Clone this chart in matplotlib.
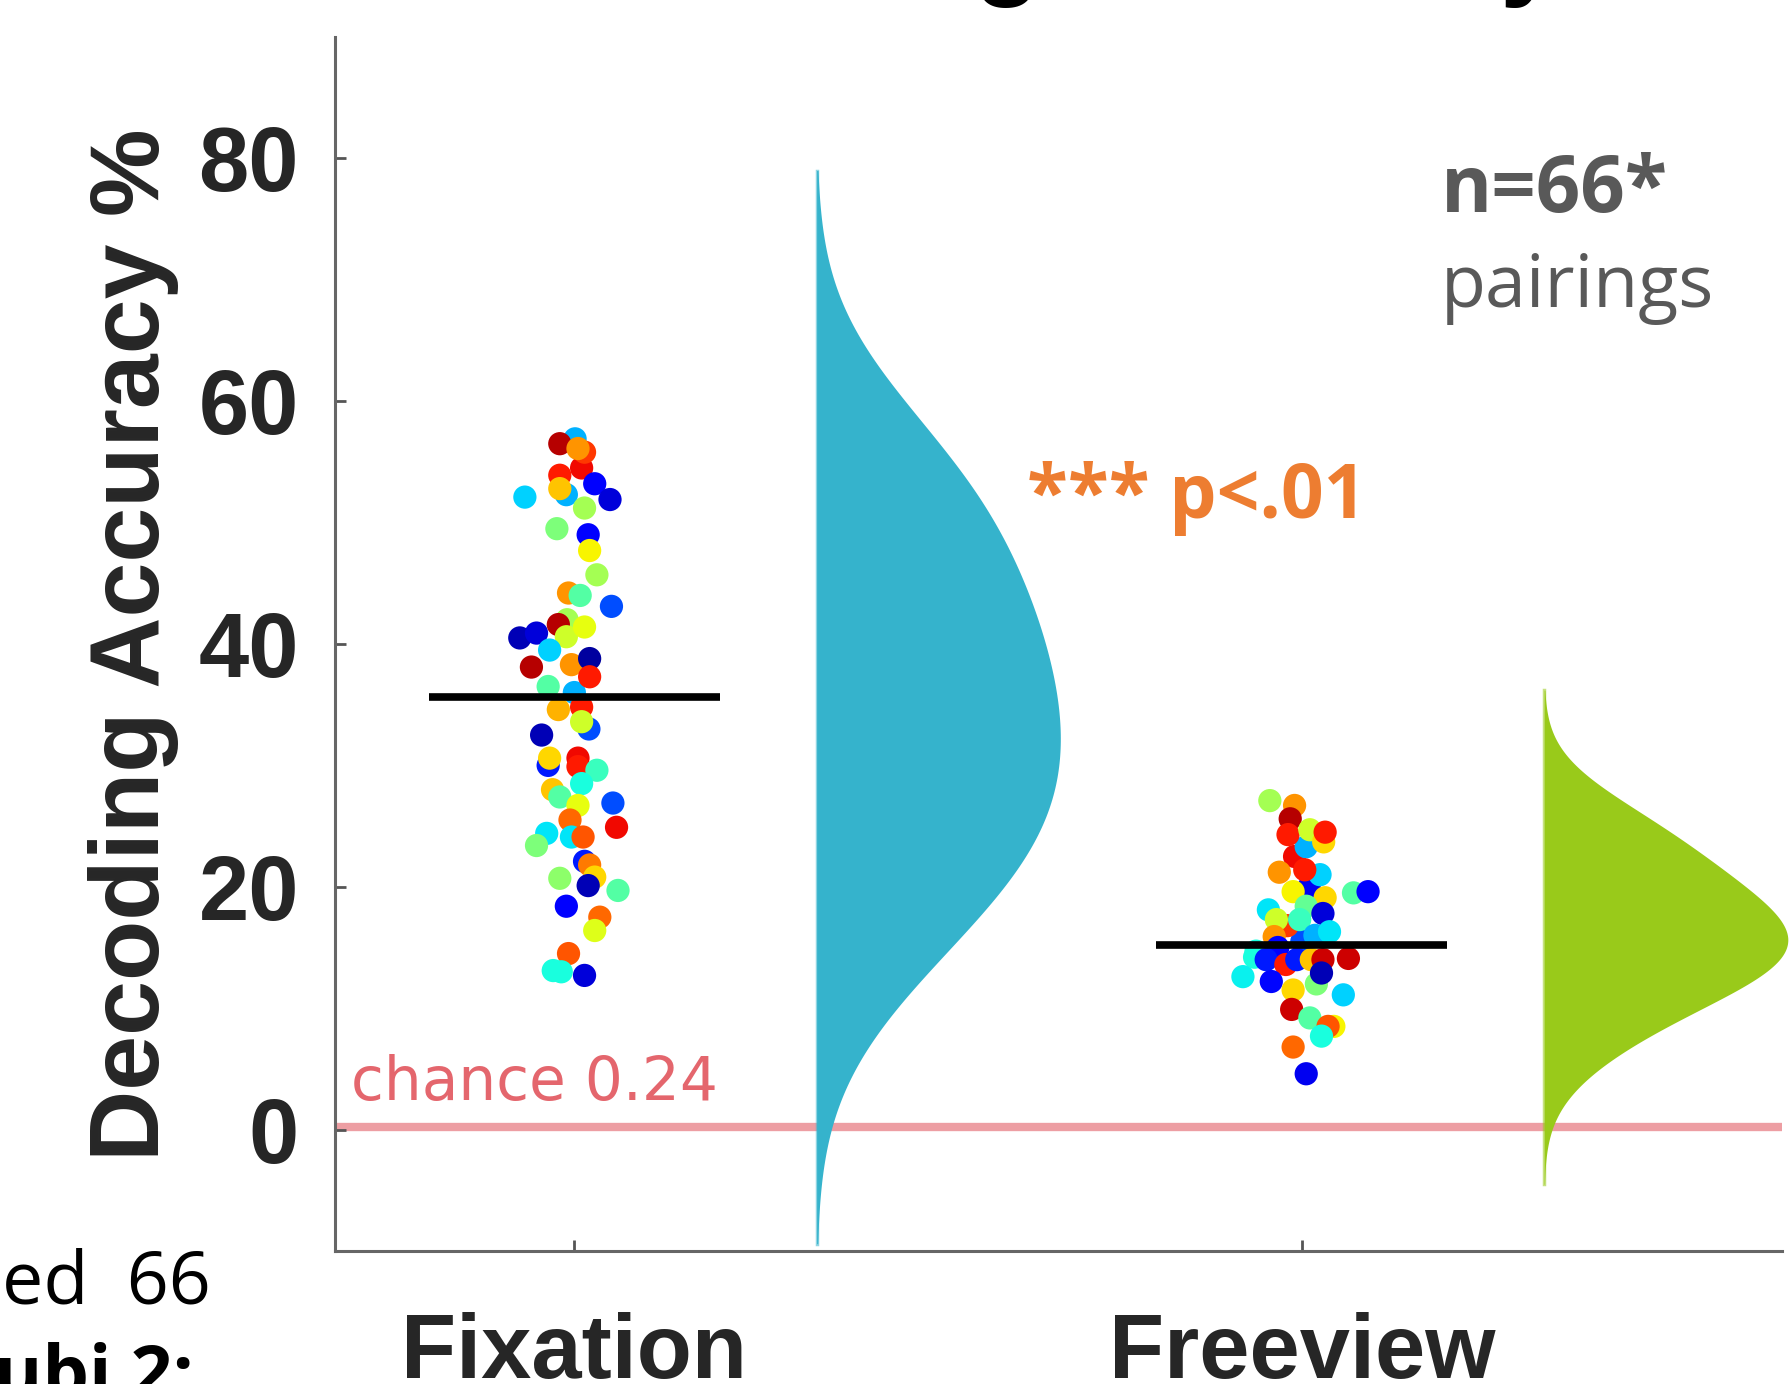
import numpy as np
import matplotlib.pyplot as plt

groups = ['Fixation', 'Freeview']
means = [35.6, 15.2]
chance = 0.24

fix_x = [1.000, 0.990, 1.020, 0.970, 1.010,
         1.001, 0.980, 1.014, 1.005, 0.989, 0.980, 0.980, 0.932, 1.028, 1.049,
         1.014, 0.976, 1.019, 1.021, 1.031, 0.992, 1.008, 1.051, 0.925, 0.948,
         0.978, 0.989, 1.014, 0.966, 0.941, 0.996, 1.021, 1.021, 0.964,
         0.978, 1.010, 1.010, 0.955, 0.964, 0.966, 1.005, 1.005, 1.031, 1.010,
         0.980, 1.005, 1.053, 0.994, 1.058, 0.962, 0.948, 0.996, 1.012, 1.014,
         1.021, 1.028, 1.019, 0.980, 1.060, 0.989, 1.035, 1.028, 0.992, 0.971,
         0.982, 1.014]
fix_y = [36.0, 42.0, 33.0, 28.0, 54.5,
         56.9, 56.5, 55.8, 56.1, 52.3, 53.9, 52.8, 52.1, 53.2, 51.9,
         51.2, 49.5, 49.0, 47.7, 45.7, 44.2, 44.0, 43.1, 40.5, 40.9,
         41.6, 40.6, 41.4, 39.5, 38.1, 38.3, 38.8, 37.3, 36.5,
         34.6, 34.8, 33.6, 32.5, 30.0, 30.6, 30.6, 29.9, 29.6, 28.5,
         27.4, 26.7, 26.9, 25.5, 24.9, 24.4, 23.4, 24.1, 24.1, 22.1,
         21.8, 20.8, 20.1, 20.7, 19.7, 18.4, 17.5, 16.4, 14.5, 13.1,
         13.0, 12.7]
fix_c = [0.30, 0.55, 0.20, 0.70, 0.90,
         0.30, 0.95, 0.85, 0.75, 0.30, 0.88, 0.70, 0.33, 0.12, 0.08,
         0.55, 0.50, 0.12, 0.65, 0.55, 0.75, 0.45, 0.20, 0.05, 0.08,
         0.95, 0.60, 0.63, 0.33, 0.95, 0.75, 0.03, 0.88, 0.45,
         0.72, 0.88, 0.60, 0.05, 0.15, 0.68, 0.90, 0.88, 0.42, 0.38,
         0.45, 0.63, 0.20, 0.80, 0.90, 0.35, 0.50, 0.35, 0.82, 0.15,
         0.78, 0.68, 0.05, 0.52, 0.45, 0.12, 0.80, 0.62, 0.82, 0.38,
         0.38, 0.08]

free_x = [2.000, 1.980, 2.020, 1.990, 2.010,
          1.956, 1.990, 2.006, 1.984, 1.981, 2.011, 2.030, 2.032,
          1.969, 2.025, 2.004, 1.988, 2.071, 2.091, 2.032, 1.954, 2.006, 2.029,
          1.965, 1.997, 1.962, 2.018, 2.038, 1.937, 1.967, 1.935, 1.951, 1.978,
          1.993, 2.013, 2.029, 2.064, 2.027, 1.919, 1.958, 2.057, 1.988, 1.986,
          2.011, 2.044, 2.036, 2.027, 1.988, 2.006]
free_y = [15.5, 16.8, 12.0, 22.5, 20.0,
          27.1, 26.7, 23.3, 25.6, 24.3, 24.7, 23.7, 24.5,
          21.2, 21.0, 21.4, 19.6, 19.5, 19.6, 19.1, 18.1, 18.4, 17.8,
          17.3, 17.3, 15.9, 16.0, 16.3, 14.7, 15.0, 14.2, 14.0, 13.6,
          14.0, 14.0, 14.0, 14.1, 12.9, 12.6, 12.2, 11.1, 11.5, 9.9,
          9.2, 8.5, 8.5, 7.7, 6.8, 4.6]
free_c = [0.20, 0.85, 0.50, 0.90, 0.10,
          0.55, 0.75, 0.30, 0.95, 0.88, 0.60, 0.68, 0.88,
          0.75, 0.33, 0.88, 0.65, 0.45, 0.12, 0.68, 0.35, 0.47, 0.08,
          0.60, 0.42, 0.75, 0.30, 0.35, 0.38, 0.12, 0.38, 0.15, 0.88,
          0.15, 0.70, 0.93, 0.93, 0.05, 0.36, 0.13, 0.33, 0.68, 0.93,
          0.45, 0.65, 0.82, 0.38, 0.80, 0.10]

violin_colors = ['#35B3CC', '#99CA1A']
bandwidths = [8.5, 3.5]

fig = plt.figure(figsize=(17.91, 13.84), dpi=100)
ax = fig.add_axes([335/1791, 1-1251/1384, (1782-335)/1791, (1251-37)/1384])

ax.axhline(chance, color='#EC9499', lw=6, alpha=0.9, zorder=1)
ax.text(0.693, 2.4, 'chance 0.24', color='#E4666D', fontsize=43,
        family='DejaVu Sans', ha='left', va='baseline')

for i, (xs, ys, cs) in enumerate([(fix_x, fix_y, fix_c), (free_x, free_y, free_c)]):
    ys = np.array(ys)
    ax.scatter(xs, ys, c=cs, cmap='jet', vmin=0, vmax=1, s=280, lw=0, zorder=3)
    ax.plot([i+0.8, i+1.2], [means[i], means[i]], color='black', lw=5.5,
            solid_capstyle='butt', zorder=4)
    # half violin from a gaussian kde of the points
    bw = bandwidths[i]
    g = np.linspace(ys.min()-2.6*bw, ys.max()+2.6*bw, 300)
    d = np.exp(-0.5*((g[:, None]-ys[None, :])/bw)**2).sum(1)
    w = d/d.max()*0.335
    base = i+1.333
    ax.fill_betweenx(g, base, base+w, color=violin_colors[i], lw=0, zorder=2, clip_on=False)
    ax.plot([base, base], [g[0], g[-1]], color=violin_colors[i], alpha=0.55, lw=2.5,
            zorder=2, clip_on=False)

ax.set_xlim(0.671, 2.66)
ax.set_ylim(-10, 90)
ax.set_xticks([1, 2])
ax.set_xticklabels(groups)
ax.set_yticks([0, 20, 40, 60, 80])
for s in ['top', 'right']:
    ax.spines[s].set_visible(False)
for s in ['left', 'bottom']:
    ax.spines[s].set_color('#666666')
    ax.spines[s].set_linewidth(2.2)
ax.tick_params(axis='both', direction='in', length=8, width=2, color='#555555')
ax.tick_params(axis='y', pad=26)
ax.tick_params(axis='x', pad=44)
for lab in ax.get_yticklabels() + ax.get_xticklabels():
    lab.set_family('Liberation Sans')
    lab.set_fontweight('bold')
    lab.set_fontsize(65)
    lab.set_color('#262626')

fig.text(134/1791, 1-645/1384, 'Decoding Accuracy %', rotation=90, ha='center', va='center',
         family='Liberation Sans', fontweight='bold', fontsize=71, color='#262626')

fig.text(1441/1791, 1-212/1384, 'n=66*', family='Open Sans', fontweight='bold',
         fontsize=56, color='#595959', ha='left', va='baseline')
fig.text(1441/1791, 1-307/1384, 'pairings', family='Open Sans',
         fontsize=53, color='#595959', ha='left', va='baseline')
fig.text(1027/1791, 1-518/1384, '*** p<.01', family='Open Sans', fontweight='bold',
         fontsize=54, color='#ED7D31', ha='left', va='baseline')

fig.text(1051/1791, 1+15/1384, 'Decoding Accuracy', family='Liberation Sans', fontweight='bold',
         fontsize=79, color='black', ha='center', va='baseline')
fig.text(0.001, 1-1303/1384, 'ed  66', family='Open Sans', fontsize=53, color='black',
         ha='left', va='baseline')
fig.text(-6/1791, 1-1398/1384, 'ubi 2:', family='Open Sans', fontweight='bold', fontsize=53,
         color='black', ha='left', va='baseline')

fig.savefig('out.png', dpi=100)
